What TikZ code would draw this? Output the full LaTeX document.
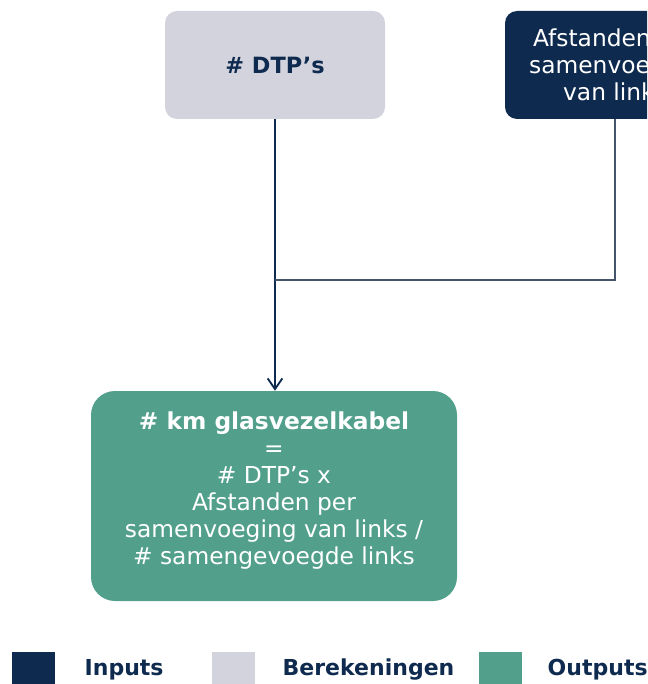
\documentclass[tikz,border=0pt]{standalone}
\usepackage{fontspec}
\setmainfont{DejaVu Sans}
\usetikzlibrary{positioning}
\usetikzlibrary{arrows.meta}

\definecolor{inputblue}{HTML}{0E2A4E}
\definecolor{calcgrey}{HTML}{D3D3DD}
\definecolor{outputgreen}{HTML}{52A08C}
\definecolor{linkgrey}{HTML}{44546A}

\begin{document}
\begin{tikzpicture}[x=0.75pt, y=-0.75pt]
        % Define styles for shapes
        \tikzset{
            calcbox/.style={fill=calcgrey, rounded corners=9pt, minimum width=165pt, minimum height=81pt, text=inputblue, align=center, font=\fontsize{16.8}{20.25}\selectfont\bfseries},
            inputbox/.style={fill=inputblue, rounded corners=9pt, minimum width=165pt, minimum height=81pt, text=white, align=center, font=\fontsize{17.5}{20.25}\selectfont},
            outputbox/.style={fill=outputgreen, rounded corners=18pt, minimum width=274.5pt, minimum height=157.5pt, text=white, align=center, font=\fontsize{17.5}{20.25}\selectfont},
            legendbox/.style={minimum width=32pt, minimum height=32pt, inner sep=0pt},
            legendtext/.style={anchor=west, text=inputblue, font=\fontsize{16.5}{20}\selectfont\bfseries},
            flow/.style={draw=inputblue, line width=1.4pt, -{Straight Barb[length=8pt, width=11pt, line width=1.4pt]}}
        }
        \useasboundingbox (0,0) rectangle (647,684);
        \clip (0,0) rectangle (647,684);
        % Draw shapes
        \node[calcbox] (dtp) at (275, 65) {\# DTP’s};
        \node[inputbox] (afstanden) at (615, 65) {Afstanden per\\samenvoeging\\van links};
        \node[outputbox] (kabel) at (274, 496) {
            \textbf{\# km glasvezelkabel}\\
            =\\
            \# DTP’s x\\
            Afstanden per\\
            samenvoeging van links /\\
            \# samengevoegde links\rule[-12pt]{0pt}{0pt}
        };
        % Draw arrows
        \coordinate (join) at (275, 280);
        \draw[flow] (dtp) -- (dtp |- kabel.north);
        \draw[draw=linkgrey, line width=1.4pt] (afstanden) |- (join);
        % Legend
        \node[legendbox, fill=inputblue] (leginput) at (33.5, 673.5) {};
        \node[legendbox, fill=calcgrey] (legcalc) at (233.5, 673.5) {};
        \node[legendbox, fill=outputgreen] (legoutput) at (500.5, 673.5) {};
        \node[legendtext] (inputs) at (80, 670) {Inputs};
        \node[legendtext] (berekeningen) at (278, 670) {Berekeningen};
        \node[legendtext] (outputs) at (543, 670) {Outputs};
    \end{tikzpicture}
\end{document}
